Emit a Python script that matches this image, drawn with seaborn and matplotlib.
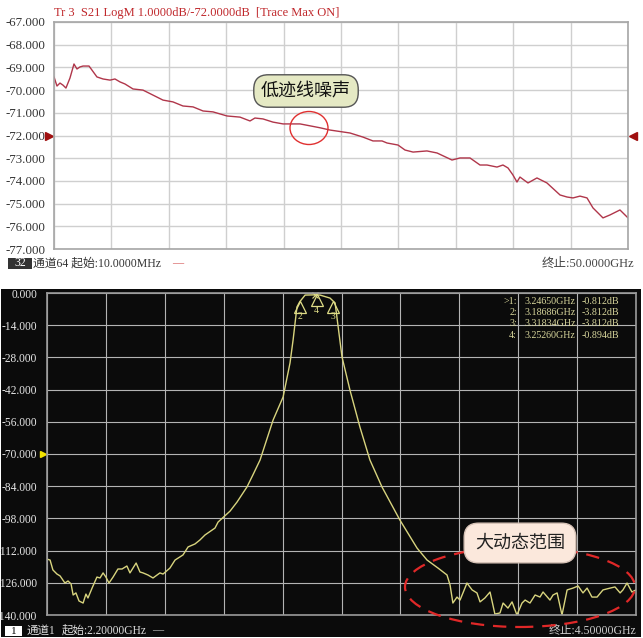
import pandas as pd
import seaborn as sns
import matplotlib.pyplot as plt
from matplotlib.patches import Ellipse, Rectangle
from matplotlib import transforms

# Tr 3 S21 trace, 10 MHz - 50 GHz (dB)
top_ghz = [0.01, 0.27, 0.53, 0.79, 1.05, 1.40, 1.75, 2.01, 2.27, 2.54,
           3.06, 3.75, 4.28, 4.89, 5.32, 5.76, 6.19, 6.89, 7.76, 8.63,
           9.50, 10.37, 11.24, 12.12, 12.99, 13.86, 15.08, 16.21, 17.08, 17.51,
           18.21, 19.08, 19.96, 21.44, 22.57, 23.18, 24.05, 25.79, 26.92, 27.79,
           28.58, 29.01, 29.97, 30.58, 31.28, 32.49, 33.37, 34.67, 35.37, 36.24,
           37.11, 37.72, 38.59, 39.11, 39.55, 39.98, 40.33, 40.59, 41.29, 42.07,
           42.94, 44.08, 44.69, 45.21, 45.82, 46.43, 46.95, 47.82, 48.43, 49.30, 50.0]
top_db = [-69.42, -69.82, -69.69, -69.78, -69.91, -69.47, -68.85, -69.07, -68.98, -68.94,
          -68.94, -69.42, -69.51, -69.56, -69.51, -69.64, -69.73, -69.95, -70.00, -70.22,
          -70.44, -70.52, -70.70, -70.74, -70.92, -70.96, -71.14, -71.19, -71.36, -71.23,
          -71.27, -71.41, -71.49, -71.49, -71.60, -71.66, -71.76, -71.89, -72.07, -72.24,
          -72.24, -72.33, -72.42, -72.64, -72.73, -72.68, -72.77, -73.08, -72.99, -72.99,
          -73.30, -73.30, -73.39, -73.30, -73.43, -73.74, -74.05, -73.83, -74.09, -73.87,
          -74.09, -74.62, -74.71, -74.75, -74.67, -74.75, -75.19, -75.63, -75.50, -75.28, -75.63]

# bandpass filter trace, 2.2 - 4.5 GHz (dB)
bot_ghz = [2.200, 2.212, 2.223, 2.239, 2.251, 2.270, 2.282, 2.294, 2.302, 2.313,
           2.325, 2.341, 2.352, 2.360, 2.376, 2.395, 2.407, 2.419, 2.430, 2.442,
           2.458, 2.477, 2.493, 2.512, 2.524, 2.548, 2.563, 2.575, 2.594, 2.614,
           2.641, 2.653, 2.680, 2.700, 2.731, 2.751, 2.778, 2.797, 2.817, 2.856,
           2.868, 2.915, 2.942, 2.981, 3.004, 3.032, 3.083, 3.122, 3.149, 3.161,
           3.176, 3.187, 3.208, 3.2465, 3.266, 3.305, 3.325, 3.352, 3.383, 3.422,
           3.461, 3.508, 3.578, 3.645, 3.684, 3.727, 3.762, 3.774, 3.785, 3.801,
           3.813, 3.840, 3.860, 3.879, 3.891, 3.910, 3.930, 3.949, 3.969, 3.981,
           4.000, 4.016, 4.035, 4.055, 4.067, 4.086, 4.106, 4.125, 4.137, 4.164,
           4.176, 4.192, 4.211, 4.231, 4.254, 4.274, 4.293, 4.309, 4.328, 4.348,
           4.371, 4.399, 4.418, 4.438, 4.449, 4.465, 4.484, 4.500]
bot_db = [-115.7, -116.1, -120.4, -122.2, -123.0, -126.1, -125.2, -126.5, -131.3, -130.4,
          -133.9, -134.8, -130.9, -132.6, -128.3, -123.5, -123.9, -121.7, -123.5, -126.1,
          -123.5, -120.0, -120.0, -118.7, -121.7, -117.4, -121.3, -121.7, -122.6, -123.9,
          -121.7, -122.2, -119.6, -116.1, -113.9, -110.4, -109.1, -107.4, -105.2, -102.2,
          -99.6, -94.8, -90.9, -84.3, -79.1, -72.6, -55.2, -45.2, -30.4, -20.4,
          -6.1, -3.8, -0.9, -0.81, -0.9, -2.2, -4.3, -27.8, -42.2, -58.3,
          -72.6, -84.3, -98.7, -110.9, -116.1, -119.6, -122.6, -127.0, -134.8, -132.2,
          -133.5, -126.1, -129.1, -130.4, -134.3, -132.6, -130.0, -139.6, -139.1, -134.8,
          -137.0, -134.3, -140.0, -134.8, -133.5, -134.8, -131.3, -132.2, -130.0, -133.5,
          -131.3, -130.4, -140.0, -129.1, -128.3, -127.4, -130.4, -128.3, -132.2, -132.2,
          -129.1, -128.3, -127.8, -130.4, -129.1, -126.1, -130.0, -129.1]

# markers
mk_names = ['1', '2', '3', '4']
mk_ghz = [3.24650, 3.18686, 3.31834, 3.25260]
mk_db = [-0.812, -3.812, -3.812, -0.894]

top_yticks = [-67, -68, -69, -70, -71, -72, -73, -74, -75, -76, -77]
bot_yticks = [0, -14, -28, -42, -56, -70, -84, -98, -112, -126, -140]

W, H = 643, 638

sns.set_style('white')
plt.rcParams['font.family'] = ['Liberation Serif', 'Noto Sans CJK SC']
CJK = ['Noto Sans CJK SC', 'DejaVu Sans']


def box(x0, y0, x1, y1):
    # pixel box -> figure fractions
    return [x0 / W, 1 - y1 / H, (x1 - x0) / W, (y1 - y0) / H]


def fx(x):
    return x / W


def fy(y):
    return 1 - y / H


fig = plt.figure(figsize=(W / 100, H / 100), dpi=100)
fig.patch.set_facecolor('white')

# black screen for lower instrument
fig.add_artist(Rectangle((fx(1), fy(637)), 640 / W, 348 / H, transform=fig.transFigure,
                         facecolor='#0b0b0b', edgecolor='none', zorder=-1))

# ---- upper panel ----
ax1 = fig.add_axes(box(54, 22, 628, 249))
df_top = pd.DataFrame({'ghz': top_ghz, 'db': top_db})
sns.lineplot(data=df_top, x='ghz', y='db', ax=ax1, color='#b0364a', lw=1)
ax1.set_xlim(0.01, 50)
ax1.set_ylim(-77, -67)
ax1.set_xticks([0.01 + i * 4.999 for i in range(11)])
ax1.set_xticklabels([])
ax1.set_yticks(top_yticks)
ax1.set_yticklabels([f'{v:.3f}' for v in top_yticks])
ax1.tick_params(axis='both', length=0)
ax1.tick_params(axis='y', pad=6, labelsize=9.3, labelcolor='#333333')
ax1.grid(True, color='#cfcfcf', lw=1)
ax1.set_xlabel('')
ax1.set_ylabel('')
for s in ax1.spines.values():
    s.set_color('#a6a6a6')
    s.set_linewidth(1.2)

ax1.text(0, 1.012, 'Tr 3  S21 LogM 1.0000dB/-72.0000dB  [Trace Max ON]',
         transform=ax1.transAxes, color='#c0282c', fontsize=9, va='bottom', ha='left')
ax1.plot([-0.008], [-72], marker='>', color='#a01010', ms=6,
         transform=ax1.get_yaxis_transform(), clip_on=False)
ax1.plot([1.009], [-72], marker='<', color='#a01010', ms=6,
         transform=ax1.get_yaxis_transform(), clip_on=False)

fig.add_artist(Rectangle((fx(8), fy(269)), 24 / W, 11 / H, transform=fig.transFigure,
                         facecolor='#333333', edgecolor='none'))
fig.text(fx(20), fy(263.5), '32', ha='center', va='center', color='white', fontsize=8.5)
fig.text(fx(33), fy(264), '通道64 起始:10.0000MHz', ha='left', va='center',
         color='#333333', fontsize=8.5)
fig.text(fx(172), fy(264), '—', ha='left', va='center', color='#d04040', fontsize=8)
fig.text(fx(634), fy(264), '终止:50.0000GHz', ha='right', va='center',
         color='#444444', fontsize=9)

fig.add_artist(Ellipse((fx(309), fy(128)), 38 / W, 33 / H, transform=fig.transFigure,
                       fill=False, edgecolor='#e03030', lw=1, zorder=5))
fig.text(fx(306), fy(91), '低迹线噪声', ha='center', va='center', fontsize=13, family=CJK,
         color='#111111', zorder=6,
         bbox=dict(boxstyle='round,pad=0.4,rounding_size=0.8', fc='#e5e9c4', ec='#555555', lw=1))

# ---- lower panel ----
ax2 = fig.add_axes(box(47, 293, 636, 615))
ax2.set_facecolor('#0b0b0b')
df_bot = pd.DataFrame({'ghz': bot_ghz, 'db': bot_db})
sns.lineplot(data=df_bot, x='ghz', y='db', ax=ax2, color='#d8d47e', lw=1)
ax2.set_xlim(2.2, 4.5)
ax2.set_ylim(-140, 0)
ax2.set_xticks([2.2 + i * 0.23 for i in range(11)])
ax2.set_xticklabels([])
ax2.set_yticks(bot_yticks)
ax2.set_yticklabels([f'{v:.3f}' for v in bot_yticks])
ax2.tick_params(axis='both', length=0)
ax2.tick_params(axis='y', pad=7, labelsize=8.3, labelcolor='#e6e6e6')
ax2.grid(True, color='#b4b4b4', lw=0.8)
ax2.set_xlabel('')
ax2.set_ylabel('')
for s in ax2.spines.values():
    s.set_color('#9a9a9a')
    s.set_linewidth(1.2)

mk_col = '#dedb86'
tri = transforms.offset_copy(ax2.transData, fig=fig, y=-5, units='dots')
num = transforms.offset_copy(ax2.transData, fig=fig, y=-15, units='dots')
ax2.plot(mk_ghz[1:], mk_db[1:], ls='none', marker='^', ms=9, mfc='none',
         mec=mk_col, mew=0.9, transform=tri, clip_on=False)
for n, g, d in zip(mk_names[1:], mk_ghz[1:], mk_db[1:]):
    ax2.text(g, d, n, transform=num, ha='center', va='center', fontsize=7, color=mk_col)
ax2.plot([mk_ghz[0]], [mk_db[0]], marker='x', ms=4, color=mk_col, mew=0.8, clip_on=False)

rows_y = [0.975, 0.94, 0.904, 0.867]
for n, g, d, yy in zip(mk_names, mk_ghz, mk_db, rows_y):
    lab = ('>' if n == '1' else '') + n + ':'
    ax2.text(0.798, yy, lab, transform=ax2.transAxes, ha='right', va='center',
             fontsize=7.2, color='#d8d69c')
    ax2.text(0.811, yy, f'{g:.5f}GHz', transform=ax2.transAxes, ha='left', va='center',
             fontsize=7.2, color='#d8d69c')
    ax2.text(0.907, yy, f'{d:.3f}dB', transform=ax2.transAxes, ha='left', va='center',
             fontsize=7.2, color='#d8d69c')

ax2.plot([-0.006], [-70], marker='>', color='#f2e200', ms=5,
         transform=ax2.get_yaxis_transform(), clip_on=False)

fig.add_artist(Rectangle((fx(5), fy(636)), 17 / W, 10 / H, transform=fig.transFigure,
                         facecolor='white', edgecolor='none'))
fig.text(fx(13.5), fy(631), '1', ha='center', va='center', color='black', fontsize=8)
fig.text(fx(27), fy(631), '通道1', ha='left', va='center', color='#dddddd', fontsize=8.3)
fig.text(fx(62), fy(631), '起始:2.20000GHz', ha='left', va='center', color='#dddddd',
         fontsize=8.3)
fig.text(fx(152), fy(631), '—', ha='left', va='center', color='#dddddd', fontsize=8)
fig.text(fx(636), fy(630), '终止:4.50000GHz', ha='right', va='center', color='#cccccc',
         fontsize=8.5)

fig.add_artist(Ellipse((fx(520), fy(587)), 230 / W, 80 / H, transform=fig.transFigure,
                       fill=False, edgecolor='#e02828', lw=1.6, ls=(0, (6, 4)), zorder=5))
fig.text(fx(520), fy(543), '大动态范围', ha='center', va='center', fontsize=13, family=CJK,
         color='#222222', zorder=6,
         bbox=dict(boxstyle='round,pad=0.6,rounding_size=0.8', fc='#fbe8dc', ec='#d6c2b6', lw=1))

fig.savefig('out.png', dpi=100)
